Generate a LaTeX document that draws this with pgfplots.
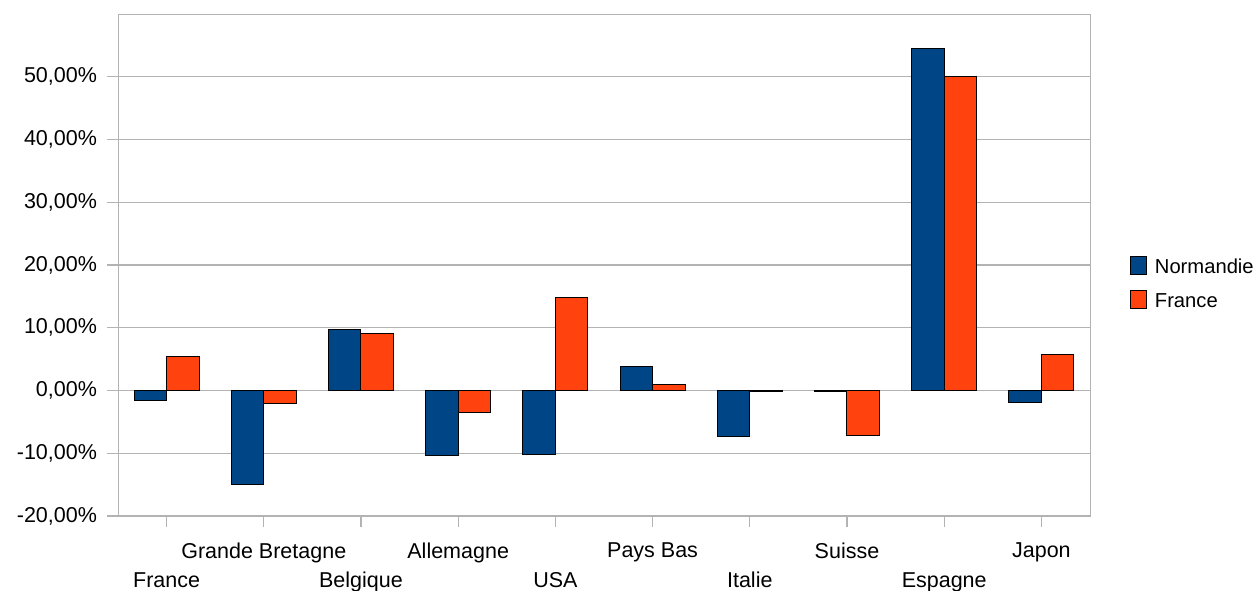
\documentclass[border=0pt]{standalone}
\usepackage{fontspec}
\setmainfont{Liberation Sans}
\usepackage{pgfplots}
\pgfplotsset{compat=1.18}
\definecolor{normandie}{HTML}{004586}
\definecolor{franceor}{HTML}{FF420E}
\definecolor{gridgray}{HTML}{B3B3B3}

% Year-on-year change by country, in percent
\begin{document}
\begin{tikzpicture}
\path[use as bounding box] (-59pt,-37pt) rectangle (570pt,258pt);
\begin{axis}[
  at={(0,0)}, anchor=south west,
  scale only axis, width=486pt, height=251pt,
  xmin=-0.5, xmax=9.5, ymin=-20, ymax=60,
  font=\fontsize{10.75}{12}\selectfont,
  axis line style={gridgray},
  xtick={0,...,9},
  xticklabels={{\strut\\[2pt]France},{Grande Bretagne\\[2pt]\strut},{\strut\\[2pt]Belgique},{Allemagne\\[2pt]\strut},{\strut\\[2pt]USA},{Pays Bas\\[2pt]\strut},{\strut\\[2pt]Italie},{Suisse\\[2pt]\strut},{\strut\\[2pt]Espagne},{Japon\\[2pt]\strut}},
  x tick label style={align=center, anchor=north, yshift=-4.5pt},
  ytick={-20,-10,0,10,20,30,40,50},
  yticklabels={{-20,00\%},{-10,00\%},{0,00\%},{10,00\%},{20,00\%},{30,00\%},{40,00\%},{50,00\%}},
  y tick label style={xshift=-1.5pt},
  tick align=outside, major tick length=5.5pt,
  tick style={gridgray, line width=0.6pt},
  ymajorgrids, grid style={gridgray, line width=0.6pt},
  xtick pos=bottom, ytick pos=left,
  legend style={at={(1.0345,0.46)}, anchor=west, draw=none, fill=none,
    font=\fontsize{10.1}{12}\selectfont, row sep=4.5pt},
  legend cell align=left,
  legend image code/.code={\draw[#1, line width=0.5pt] (0pt,-3pt) rectangle (8pt,6pt); \path (10pt,0pt);},
]
\addplot[ybar, bar width=0.334, bar shift=-0.167, fill=normandie, draw=black, line width=0.5pt]
  coordinates {(0,-1.65) (1,-15.0) (2,9.8) (3,-10.3) (4,-10.25) (5,3.9) (6,-7.4) (7,-0.1) (8,54.5) (9,-1.95)};
\addlegendentry{Normandie}
\addplot[ybar, bar width=0.334, bar shift=0.167, fill=franceor, draw=black, line width=0.5pt]
  coordinates {(0,5.4) (1,-2.0) (2,9.1) (3,-3.55) (4,14.8) (5,0.95) (6,-0.1) (7,-7.1) (8,50.0) (9,5.7)};
\addlegendentry{France}
\end{axis}
\end{tikzpicture}
\end{document}
